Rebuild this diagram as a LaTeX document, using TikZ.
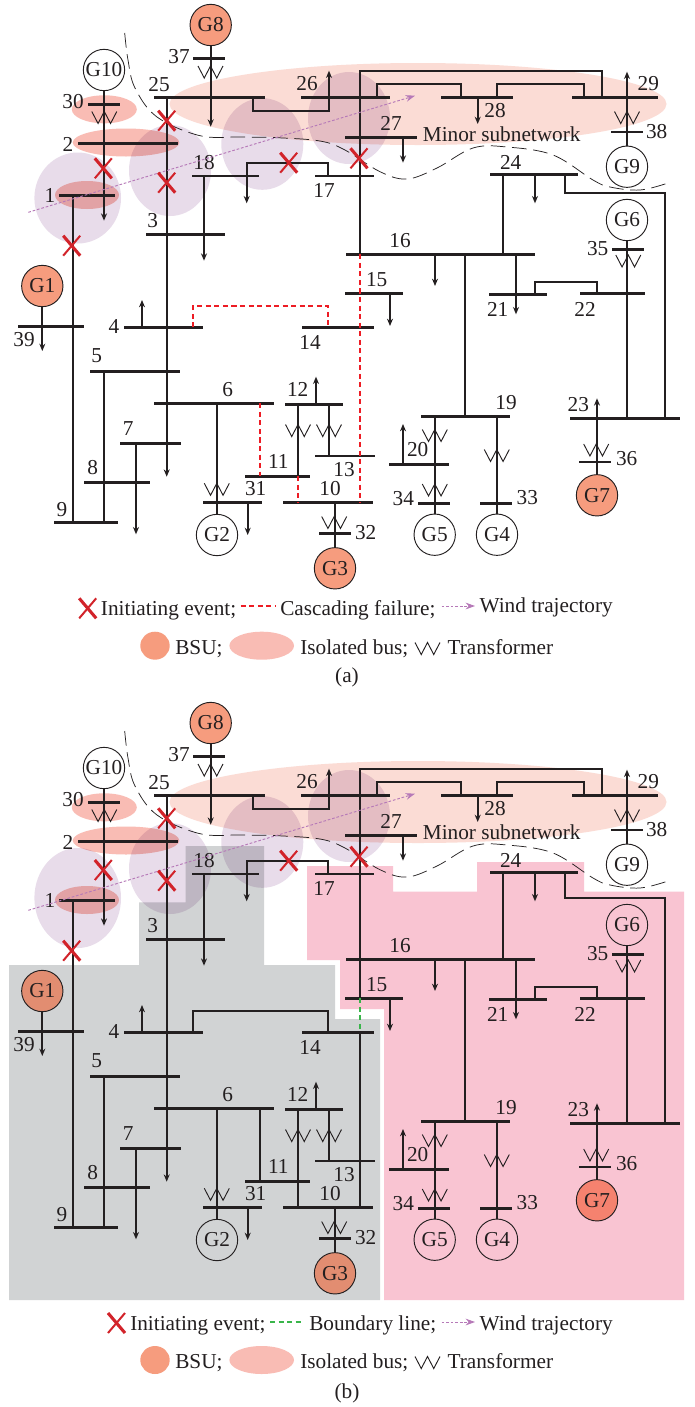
\documentclass[tikz,border=0pt]{standalone}
\usepackage{fontspec}
\setmainfont{Liberation Serif}
\usetikzlibrary{arrows.meta}
\definecolor{ink}{HTML}{231F20}
\definecolor{xred}{HTML}{D2232A}
\definecolor{failred}{HTML}{ED1C24}
\definecolor{bound}{HTML}{39B54A}
\definecolor{windc}{HTML}{B679B8}
\definecolor{bsu}{HTML}{F69C7E}
\definecolor{bsugray}{HTML}{E28D71}
\definecolor{bsupink}{HTML}{F5826F}
\definecolor{isol}{HTML}{F9BCB4}
\definecolor{minor}{HTML}{FBDCD5}
\definecolor{purp}{HTML}{E8DCEA}
\definecolor{grayzone}{HTML}{D1D3D4}
\definecolor{pinkzone}{HTML}{F9C4D2}
\tikzset{
  lab/.style={font=\fontsize{15.95}{18}\selectfont,text=ink,inner sep=0pt},
  busbar/.style={fill=ink,draw=none,inner sep=0pt,outer sep=0pt,minimum height=2pt},
  gen/.style={circle,draw=ink,line width=.7pt,minimum size=31pt,inner sep=0pt,outer sep=0pt,font=\fontsize{15.95}{18}\selectfont,text=ink},
  conn/.style={draw=ink,line width=1.25pt},
  tipped/.style={-{Stealth[length=5.5pt,width=4.5pt]}},
  thinw/.style={draw=ink,line width=.7pt},
  faildash/.style={draw=failred,line width=.9pt,dash pattern=on 3.8pt off 2.6pt},
  bounddash/.style={draw=bound,line width=.9pt,dash pattern=on 3.8pt off 2.6pt},
  tie/.style={draw=ink,line width=.55pt,dash pattern=on 11pt off 5pt},
  wind/.style={draw=windc,line width=.7pt,dash pattern=on 2pt off 1.4pt,-{Stealth[length=7pt,width=5pt]}},
}
\newcommand\BusAt[4]{\pgfmathsetmacro\tmpw{(#3-#2)*0.75}\pgfmathsetmacro\tmpc{(#2+#3)/2}\pgfmathsetmacro\tmpy{#4}%
  \node[busbar,minimum width=\tmpw pt] (\netpre#1) at (\tmpc,\tmpy) {};}
\newcommand\Gen[5][]{\pgfmathsetmacro\tmpy{#4}\node[gen,#1] (\netpre#2) at (#3,\tmpy) {#5};}
\newcommand\Lab[4]{\pgfmathsetmacro\tmpy{#3}\node[lab] (\netpre L#4) at (#1,\tmpy) {#2};}
\newcommand\V[4][conn]{\draw[#1] (#2,0 |- \netpre#3) -- (#2,0 |- \netpre#4);}
\newcommand\Tip[3]{\pgfmathsetmacro\tmpy{#3}\coordinate (\netpre tip) at (#1,\tmpy);\draw[conn,tipped] (#1,0 |- \netpre#2) -- (\netpre tip);}
\newcommand\Loop[5]{\pgfmathsetmacro\tmpy{#3}\draw[conn] (#1,0 |- \netpre#2) -- (#1,\tmpy) -- (#4,\tmpy) -- (#4,0 |- \netpre#5);}
\newcommand\LoopTip[5]{\pgfmathsetmacro\tmpy{#3}\pgfmathsetmacro\tmpz{#5}\coordinate (\netpre tip) at (#4,\tmpz);\draw[conn,tipped] (#1,0 |- \netpre#2) -- (#1,\tmpy) -- (#4,\tmpy) -- (\netpre tip);}
\newcommand\Xf[2]{\pgfmathsetmacro\tmpy{#2}\pgfmathsetmacro\tmpz{\tmpy+12}\draw[thinw,line join=miter] (#1-12.5,\tmpy) -- (#1-6.25,\tmpz) -- (#1,\tmpy) -- (#1+6.25,\tmpz) -- (#1+12.5,\tmpy);}
\newcommand\Cross[2]{\pgfmathsetmacro\tmpy{#2}\pgfmathsetmacro\tmpa{\tmpy-10}\pgfmathsetmacro\tmpb{\tmpy+10}%
  \draw[xred,line width=2.3pt] (#1-8.5,\tmpa) -- (#1+8.5,\tmpb);\draw[xred,line width=1.5pt] (#1+8.5,\tmpa) -- (#1-8.5,\tmpb);}
\newcommand\Ell[5]{\pgfmathsetmacro\tmpy{#3}\fill[#1] (#2,\tmpy) ellipse [x radius=#4,y radius=#5];}
\newcommand\Net[3]{%
  \def\netpre{#1}\def\yU{#2}\def\yL{#3}%
  % upper buses
  \Gen{G8}{210.7}{25+\yU}{G8}
  \Gen{G10}{104}{70+\yU}{G10}
  \Gen{G9}{627}{166.7+\yU}{G9}
  \Gen{G6}{627}{220+\yL}{G6}
  \Gen{G1}{42.3}{286+\yL}{G1}
  \Gen{G2}{217}{535+\yL}{G2}
  \Gen{G3}{335}{568.3+\yL}{G3}
  \Gen{G4}{497}{534.7+\yL}{G4}
  \Gen{G5}{434.7}{534.7+\yL}{G5}
  \Gen{G7}{597}{495.3+\yL}{G7}
  \BusAt{B37}{193}{225}{58.3+\yU}
  \BusAt{B30}{88}{120}{104.3+\yU}
  \BusAt{B2}{77.7}{178.3}{143.3+\yU}
  \BusAt{B25}{154}{265}{97.3+\yU}
  \BusAt{B18}{192.3}{259}{176+\yU}
  \BusAt{B17}{315}{374}{176+\yU}
  \BusAt{B26}{301}{390}{97.3+\yU}
  \BusAt{B28}{441}{512.7}{97.3+\yU}
  \BusAt{B29}{572}{658}{97.3+\yU}
  \BusAt{B38}{611}{643}{132+\yU}
  \BusAt{B27}{345}{416.7}{137.3+\yU}
  \BusAt{B24}{490}{578}{174.3+\yU}
  % lower buses
  \BusAt{B1}{59.3}{115}{195.3+\yL}
  \BusAt{B3}{146}{225}{234.3+\yL}
  \BusAt{B4}{124}{202.7}{327.3+\yL}
  \BusAt{B14}{302}{374}{327.3+\yL}
  \BusAt{B39}{18}{84}{326.3+\yL}
  \BusAt{B35}{612}{644}{249.3+\yL}
  \BusAt{B16}{346}{535}{254.3+\yL}
  \BusAt{B21}{489}{546.7}{294.3+\yL}
  \BusAt{B22}{580}{645}{293.3+\yL}
  \BusAt{B15}{345}{402.7}{293.3+\yL}
  \BusAt{B5}{90}{180}{371.3+\yL}
  \BusAt{B6}{154}{274}{403.3+\yL}
  \BusAt{B7}{120}{181}{443.3+\yL}
  \BusAt{B8}{84}{150}{482.3+\yL}
  \BusAt{B9}{54}{118}{522.3+\yL}
  \BusAt{B31}{203}{262}{502.3+\yL}
  \BusAt{B12}{285}{343}{404.3+\yL}
  \BusAt{B13}{315}{375}{456+\yL}
  \BusAt{B11}{245}{310}{476.3+\yL}
  \BusAt{B10}{283}{372.7}{502.3+\yL}
  \BusAt{B32}{319}{351}{533.3+\yL}
  \BusAt{B19}{421}{510}{416.3+\yL}
  \BusAt{B20}{389}{449}{464.3+\yL}
  \BusAt{B34}{418}{450}{503.3+\yL}
  \BusAt{B33}{480}{512}{503.3+\yL}
  \BusAt{B23}{570}{680}{418.3+\yL}
  \BusAt{B36}{579}{611}{462+\yL}
  % connectors
  \Tip{210.7}{G8.south}{126.7+\yU}
  \Tip{104}{G10.south}{220.7+\yL}
  \Tip{166.7}{B25}{476.7+\yL}
  \Tip{204}{B18}{260.7+\yL}
  \V{72.7}{B1}{B9}
  \Tip{42.3}{G1.south}{351+\yL}
  \V{104}{B5}{B9}
  \Tip{136}{B7}{534.3+\yL}
  \V{217}{B6}{G2.north}
  \Tip{247.7}{B31}{535+\yL}
  \Tip{142}{B4}{300+\yL}
  \Tip{316}{B12}{376.7+\yL}
  \V{298}{B12}{B11}
  \V{329}{B12}{B13}
  \V{335}{B10}{G3.north}
  \LoopTip{253}{B25}{110.7+\yU}{329}{70.7+\yU}
  \LoopTip{328}{B17}{162.7+\yU}{246.7}{203.3+\yU}
  \Tip{403}{B27}{162.7+\yU}
  \Tip{477.7}{B28}{124+\yU}
  \Loop{376.7}{B26}{84.3+\yU}{460.7}{B28}
  \Loop{496.7}{B28}{84.3+\yU}{584.3}{B29}
  \Loop{602.3}{B29}{70.7+\yU}{360}{B16}
  \Tip{627}{G9.north}{71.7+\yU}
  \Tip{535}{B24}{203.3+\yU}
  \Loop{565}{B24}{192.7+\yL}{665}{B23}
  \V{503}{B24}{B16}
  \V{627}{G6.south}{B23}
  \Tip{435}{B16}{286+\yL}
  \V{465}{B16}{B19}
  \Tip{516}{B16}{314.3+\yL}
  \Tip{390}{B15}{326+\yL}
  \Loop{535}{B21}{281.7+\yL}{597}{B22}
  \V{435}{B19}{G5.north}
  \V{497}{B19}{G4.north}
  \Tip{403}{B20}{424+\yL}
  \Tip{597}{G7.north}{398.3+\yL}
  % transformers
  \Xf{210.5}{66+\yU}
  \Xf{104.3}{111.5+\yU}
  \Xf{627}{111.5+\yU}
  \Xf{628.3}{255+\yL}
  \Xf{216.8}{483.3+\yL}
  \Xf{298}{424.5+\yL}
  \Xf{329}{424.5+\yL}
  \Xf{334.2}{516.5+\yL}
  \Xf{434.8}{429.5+\yL}
  \Xf{434.8}{484+\yL}
  \Xf{496.8}{449.5+\yL}
  \Xf{596.2}{444+\yL}
  % bus labels
  \Lab{179}{37}{57+\yU}{37}
  \Lab{73}{30}{102+\yU}{30}
  \Lab{68}{2}{144+\yU}{2}
  \Lab{50}{1}{195+\yL}{1}
  \Lab{159}{25}{85+\yU}{25}
  \Lab{204}{18}{163+\yU}{18}
  \Lab{324}{17}{190+\yU}{17}
  \Lab{307}{26}{84+\yU}{26}
  \Lab{495}{28}{111+\yU}{28}
  \Lab{648.3}{29}{83.3+\yU}{29}
  \Lab{656.7}{38}{131.7+\yU}{38}
  \Lab{391}{27}{123.3+\yU}{27}
  \Lab{510.7}{24}{162.3+\yU}{24}
  \Lab{152.7}{3}{221+\yL}{3}
  \Lab{114}{4}{326+\yL}{4}
  \Lab{310}{14}{342+\yL}{14}
  \Lab{24}{39}{340+\yL}{39}
  \Lab{597.7}{35}{248.3+\yL}{35}
  \Lab{400}{16}{241+\yL}{16}
  \Lab{497.7}{21}{309.3+\yL}{21}
  \Lab{585}{22}{309+\yL}{22}
  \Lab{376.7}{15}{280+\yL}{15}
  \Lab{96.7}{5}{356+\yL}{5}
  \Lab{227.7}{6}{389.3+\yL}{6}
  \Lab{128.3}{7}{428.3+\yL}{7}
  \Lab{92.7}{8}{467.7+\yL}{8}
  \Lab{62}{9}{509.3+\yL}{9}
  \Lab{255.7}{31}{489+\yL}{31}
  \Lab{297.7}{12}{389.3+\yL}{12}
  \Lab{344}{13}{470+\yL}{13}
  \Lab{278.3}{11}{461.7+\yL}{11}
  \Lab{330}{10}{489+\yL}{10}
  \Lab{365.7}{32}{532.3+\yL}{32}
  \Lab{506}{19}{402.3+\yL}{19}
  \Lab{417.7}{20}{450+\yL}{20}
  \Lab{403.3}{34}{498.3+\yL}{34}
  \Lab{527.3}{33}{497.7+\yL}{33}
  \Lab{578.3}{23}{404.3+\yL}{23}
  \Lab{626.7}{36}{459+\yL}{36}
  \Lab{501.7}{Minor subnetwork}{134.3+\yU}{MS}
  % tie line and wind
  \draw[tie] plot[smooth,tension=.6] coordinates {(124.7,33+\yU) (128,60+\yU) (135,88+\yU) (157,117+\yU) (200,135.7+\yU) (240,137+\yU) (277,137.7+\yU) (320,141+\yU) (345,150+\yU) (380,171.7+\yU) (407,179+\yU) (437,168+\yU) (473,148+\yU) (507,147+\yU) (553,155+\yU) (593,180+\yU) (610,187+\yU) (640,190+\yU) (668,183+\yU)};
  \coordinate (\netpre w1) at (28.3,212.3+\yU);
  \coordinate (\netpre w2) at (415,95.7+\yU);
  \draw[wind] (\netpre w1) -- (\netpre w2);
}
\newcommand\Fills[4]{% upper shift, lower shift, E1 y, E1 ry
  \pgfmathsetmacro\yU{#1}\pgfmathsetmacro\yL{#2}
  \Ell{minor}{418}{104+\yU}{248.5}{41}
  \Ell{purp}{77.7}{#3}{43.3}{#4}
  \Ell{purp}{170}{170.5+\yU}{41}{45.5}
  \Ell{purp}{262.3}{144+\yU}{41}{45.8}
  \Ell{purp}{349}{118+\yU}{41}{46}
  \Ell{isol}{104.3}{109.3+\yU}{32.5}{14}
  \Ell{isol}{126}{142.5+\yU}{53.3}{14}
  \Ell{isol}{87}{195+\yL}{32}{14}
  \Ell{bsu}{210.7}{25+\yU}{20.7}{20.7}
}
\begin{document}
\begin{tikzpicture}[x=0.75pt,y=-0.75pt]
\useasboundingbox (0,0) rectangle (694,1407);
\fill[white] (0,0) rectangle (694,1407);
\begin{scope}[blend mode=multiply]
  \fill[grayzone] (9,965) -- (139,965) -- (139,902.3) -- (185.7,902.3) -- (185.7,846) -- (264,846) -- (264,965) -- (335,965) -- (335,1019) -- (380,1019) -- (380,1300) -- (9,1300) -- cycle;
  \fill[pinkzone] (307,866) -- (393,866) -- (393,891.7) -- (477,891.7) -- (477,862) -- (584,862) -- (584,891.7) -- (684,891.7) -- (684,1300) -- (384,1300) -- (384,1009) -- (340,1009) -- (340,960) -- (307,960) -- cycle;
  \Fills{0}{0}{198}{45.5}
  \Fills{698}{705}{898}{50}
\end{scope}
\Ell{bsu}{42.3}{286}{20.7}{20.7}
\Ell{bsu}{335}{568.3}{20.7}{20.7}
\Ell{bsu}{597}{495.3}{20.7}{20.7}
\Ell{bsugray}{42.3}{991}{20.7}{20.7}
\Ell{bsugray}{335}{1273.3}{20.7}{20.7}
\Ell{bsupink}{597}{1200.3}{20.7}{20.7}
% ---------- panel a
\Net{a}{0}{0}
\def\netpre{a}
\V[faildash]{360}{B16}{B10}
\V[faildash]{260}{B6}{B11}
\V[faildash]{298}{B11}{B10}
\coordinate (ac1) at (193,306);
\coordinate (ac2) at (328,306);
\draw[faildash] (193,0 |- aB4) -- (ac1) -- (ac2) -- (328,0 |- aB14);
\Cross{103.3}{168.3}\Cross{166.7}{120.7}\Cross{166.7}{182.7}\Cross{71.7}{245.7}\Cross{288.7}{162.7}\Cross{359}{158.3}
% ---------- panel b
\Net{b}{698}{705}
\def\netpre{b}
\V{360}{B16}{B15}
\V[bounddash]{360}{B15}{B14}
\V{360}{B14}{B10}
\V{260}{B6}{B11}
\V{297.7}{B11}{B10}
\coordinate (bc1) at (192.7,1011);
\coordinate (bc2) at (328,1011);
\draw[conn] (192.7,0 |- bB4) -- (bc1) -- (bc2) -- (328,0 |- bB14);
\Cross{103.3}{870}\Cross{166.7}{818.3}\Cross{166.7}{880.7}\Cross{71.7}{950.7}\Cross{288.7}{860.7}\Cross{359}{856.7}
% ---------- legend a
\Cross{87.7}{608.3}
\node[lab,anchor=base west] (la1) at (100.7,615) {Initiating event;};
\coordinate (lad1) at (240.7,606); \coordinate (lad2) at (275,606);
\draw[faildash] (lad1) -- (lad2);
\node[lab,anchor=base west] (la2) at (280,615) {Cascading failure;};
\coordinate (law1) at (441.7,606); \coordinate (law2) at (475,606);
\draw[wind] (law1) -- (law2);
\node[lab,anchor=base west] (la3) at (479.3,612) {Wind trajectory};
\begin{scope}[blend mode=multiply]
\fill[bsu] (155,645.7) ellipse [x radius=14.7,y radius=14];
\fill[isol] (261.7,645.7) ellipse [x radius=32.3,y radius=14];
\fill[bsu] (155,1360) ellipse [x radius=14.7,y radius=14];
\fill[isol] (261.7,1360) ellipse [x radius=32.3,y radius=14];
\end{scope}
\node[lab,anchor=base west] (la4) at (175,654) {BSU;};
\node[lab,anchor=base west] (la5) at (300,654) {Isolated bus;};
\Xf{427.5}{642.5}
\node[lab,anchor=base west] (la6) at (447.3,654) {Transformer};
\node[lab] (la7) at (347,677) {(a)};
% ---------- legend b
\Cross{116.5}{1323}
\node[lab,anchor=base west] (lb1) at (130,1330) {Initiating event;};
\coordinate (lbd1) at (270,1322); \coordinate (lbd2) at (304,1322);
\draw[bounddash] (lbd1) -- (lbd2);
\node[lab,anchor=base west] (lb2) at (309,1330) {Boundary line;};
\coordinate (lbw1) at (441.7,1322); \coordinate (lbw2) at (475,1322);
\draw[wind] (lbw1) -- (lbw2);
\node[lab,anchor=base west] (lb3) at (479.3,1330) {Wind trajectory};
\node[lab,anchor=base west] (lb4) at (175,1368) {BSU;};
\node[lab,anchor=base west] (lb5) at (300,1368) {Isolated bus;};
\Xf{427.5}{1356.5}
\node[lab,anchor=base west] (lb6) at (447.3,1368) {Transformer};
\node[lab] (lb7) at (347,1393) {(b)};
\end{tikzpicture}
\end{document}
